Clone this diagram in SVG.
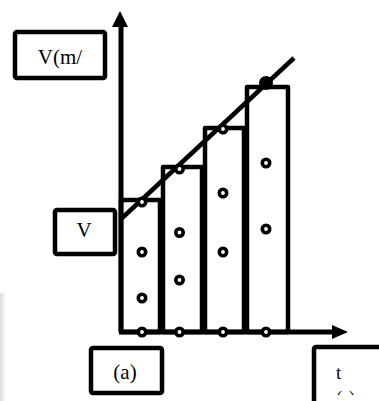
<svg xmlns="http://www.w3.org/2000/svg" width="379" height="401" viewBox="0 0 379 401">
<style>
.box{fill:#fff;stroke:#000;stroke-width:4.5;stroke-linejoin:round}
.bar{fill:none;stroke:#000;stroke-width:4.5;stroke-linejoin:round}
.ax{stroke:#000;stroke-width:5;fill:none}
.lbl{font-family:"Liberation Serif","Times New Roman",serif;fill:#000}
.dot{fill:#fff;stroke:#000;stroke-width:3.6}
</style>
<defs>
<linearGradient id="sh" x1="0" y1="0" x2="1" y2="0">
<stop offset="0" stop-color="#dcdcdc"/>
<stop offset="1" stop-color="#ffffff"/>
</linearGradient>
<clipPath id="tclip"><rect x="316" y="349" width="63" height="46"/></clipPath>
</defs>
<rect x="0" y="293" width="6" height="108" fill="url(#sh)"/>
<g id="bars">
<rect class="bar" x="121" y="200" width="39" height="132"/>
<rect class="bar" x="163" y="167" width="39" height="165"/>
<rect class="bar" x="205" y="128" width="39" height="204"/>
<rect class="bar" x="247" y="87" width="41" height="245"/>
</g>
<g id="connectors">
<path class="ax" d="M121 332 V24"/>
<polygon points="112,27 120,11 128,27" fill="#000"/>
<path class="ax" d="M119 332 H334"/>
<polygon points="332,325 348,332 332,339" fill="#000"/>
<path d="M121 219 L294 58" stroke="#000" stroke-width="4.5" fill="none"/>
</g>
<g id="points">
<circle class="dot" cx="142" cy="202" r="3.7"/>
<circle class="dot" cx="142" cy="252" r="3.7"/>
<circle class="dot" cx="142" cy="298" r="3.7"/>
<circle class="dot" cx="142" cy="332" r="3.7"/>
<circle class="dot" cx="179.5" cy="169" r="3.7"/>
<circle class="dot" cx="179.5" cy="232.5" r="3.7"/>
<circle class="dot" cx="179.5" cy="280" r="3.7"/>
<circle class="dot" cx="179.5" cy="332" r="3.7"/>
<circle class="dot" cx="223" cy="129" r="3.7"/>
<circle class="dot" cx="223" cy="193" r="3.7"/>
<circle class="dot" cx="223" cy="252" r="3.7"/>
<circle class="dot" cx="223" cy="332" r="3.7"/>
<circle cx="266" cy="83" r="7" fill="#000"/>
<circle class="dot" cx="266" cy="163" r="3.7"/>
<circle class="dot" cx="266" cy="229" r="3.7"/>
<circle class="dot" cx="266" cy="332" r="3.7"/>
</g>
<g id="label-v-unit">
<rect class="box" x="15" y="32" width="90" height="46" rx="2"/>
<text class="lbl" x="60" y="64" font-size="21" text-anchor="middle">V(m/</text>
</g>
<g id="label-v">
<rect class="box" x="55" y="210" width="60" height="44" rx="2"/>
<text class="lbl" x="84" y="237" font-size="21" text-anchor="middle">V</text>
</g>
<g id="label-a">
<rect class="box" x="91" y="348" width="71" height="45" rx="2"/>
<text class="lbl" x="125" y="379" font-size="21" text-anchor="middle">(a)</text>
</g>
<g id="label-t">
<rect class="box" x="314" y="347" width="80" height="70" rx="2"/>
<text class="lbl" x="336" y="379" font-size="19">t</text>
<text class="lbl" x="336" y="403.5" font-size="18" clip-path="url(#tclip)">(s)</text>
</g>
</svg>
